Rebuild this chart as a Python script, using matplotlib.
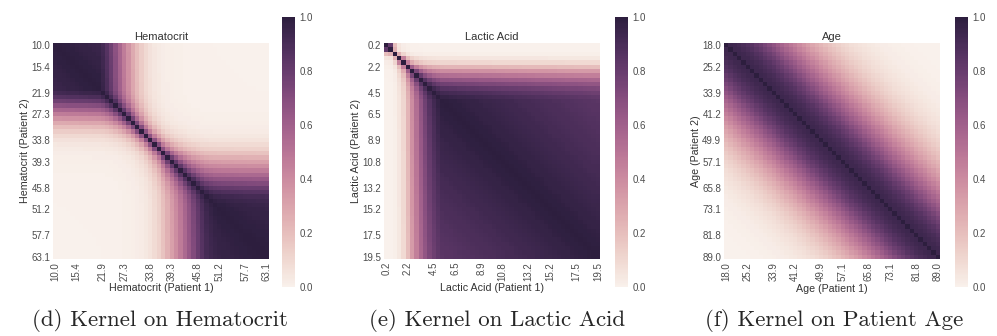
import numpy as np
import matplotlib
matplotlib.use("Agg")
import matplotlib.pyplot as plt
import seaborn as sns

sns.set_style("white")
plt.rcParams["font.family"] = ["Liberation Sans", "DejaVu Sans"]

# 50 grid points per variable, ticks every ~5 cells
tick_idx = [0, 5, 11, 16, 22, 27, 33, 38, 44, 49]

hct_ticks = ["10.0", "15.4", "21.9", "27.3", "33.8", "39.3", "45.8", "51.2", "57.7", "63.1"]
lac_ticks = ["0.2", "2.2", "4.5", "6.5", "8.9", "10.8", "13.2", "15.2", "17.5", "19.5"]
age_ticks = ["18.0", "25.2", "33.9", "41.2", "49.9", "57.1", "65.8", "73.1", "81.8", "89.0"]

# warped input position of each grid cell (lengthscale units)
hct_warp = [0.000, 0.005, 0.010, 0.015, 0.020, 0.025, 0.030, 0.035, 0.040, 0.045,
            0.050, 0.090, 0.160, 0.260, 0.400, 0.570, 0.770, 1.000, 1.280, 1.600,
            1.950, 2.350, 2.750, 3.150, 3.500, 3.900, 4.200, 4.450, 4.650, 4.840,
            5.000, 5.140, 5.260, 5.360, 5.440, 5.500, 5.530, 5.550, 5.560, 5.565,
            5.570, 5.575, 5.580, 5.584, 5.588, 5.591, 5.594, 5.596, 5.598, 5.600]
lac_warp = [0.000, 0.200, 1.600, 3.000, 3.800, 4.600, 5.100, 5.400, 5.620, 5.770,
            5.880, 5.950, 6.000, 6.030, 6.035, 6.040, 6.045, 6.050, 6.055, 6.060,
            6.064, 6.069, 6.074, 6.079, 6.083, 6.088, 6.093, 6.098, 6.102, 6.107,
            6.112, 6.117, 6.121, 6.126, 6.131, 6.136, 6.140, 6.145, 6.150, 6.155,
            6.159, 6.164, 6.169, 6.174, 6.178, 6.183, 6.188, 6.193, 6.197, 6.200]
age_warp = [0.00, 0.05, 0.11, 0.16, 0.22, 0.27, 0.32, 0.38, 0.43, 0.49,
            0.54, 0.59, 0.65, 0.70, 0.76, 0.81, 0.86, 0.92, 0.97, 1.03,
            1.08, 1.13, 1.19, 1.24, 1.30, 1.35, 1.40, 1.46, 1.51, 1.57,
            1.62, 1.67, 1.73, 1.78, 1.84, 1.89, 1.94, 2.00, 2.05, 2.11,
            2.16, 2.21, 2.27, 2.32, 2.38, 2.43, 2.48, 2.54, 2.59, 2.65]

# kernel shape (power on distance) and diagonal share per panel
hct_power, hct_nugget = 1.0, 0.0
lac_power, lac_nugget = 1.0, 0.0
age_power, age_nugget = 2.0, 0.06

panels = [
    ("Hematocrit", hct_warp, hct_power, hct_nugget, hct_ticks, "(d) Kernel on Hematocrit"),
    ("Lactic Acid", lac_warp, lac_power, lac_nugget, lac_ticks, "(e) Kernel on Lactic Acid"),
    ("Age", age_warp, age_power, age_nugget, age_ticks, "(f) Kernel on Patient Age"),
]


def kernel(warp, power, nugget):
    w = np.asarray(warp)
    d = np.abs(w[:, None] - w[None, :])
    return (1 - nugget) * np.exp(-d ** power) + nugget * np.eye(len(w))


W, H = 997, 336
fig = plt.figure(figsize=(W / 100, H / 100), dpi=100)
cmap = sns.cubehelix_palette(light=.95, as_cmap=True)

# pixel boxes: heatmap left, colorbar left, caption centre
boxes = [(53, 282, 160), (384, 615, 497), (724, 955, 834)]

for (name, warp, pw, nug, ticks, caption), (hx, cx, capx) in zip(panels, boxes):
    ax = fig.add_axes([hx / W, (H - 259) / H, 216 / W, 216 / H])
    cax = fig.add_axes([cx / W, (H - 287) / H, 13 / W, 270 / H])
    sns.heatmap(kernel(warp, pw, nug), ax=ax, cbar_ax=cax, cmap=cmap, vmin=0, vmax=1,
                xticklabels=False, yticklabels=False)
    pos = np.array(tick_idx) + 0.5
    ax.set_xticks(pos)
    ax.set_xticklabels(ticks, rotation=90, fontsize=7, color="0.3")
    ax.set_yticks(pos)
    ax.set_yticklabels(ticks, rotation=0, fontsize=7, color="0.3")
    ax.tick_params(length=0, pad=2)
    ax.set_title(name, fontsize=8, color="0.2", pad=2)
    ax.set_xlabel(f"{name} (Patient 1)", fontsize=7.7, color="0.2", labelpad=2)
    ax.set_ylabel(f"{name} (Patient 2)", fontsize=7.7, color="0.2", labelpad=1)
    cax.tick_params(labelsize=7, length=0, labelcolor="0.3", pad=3)
    cax.set_yticks([0, 0.2, 0.4, 0.6, 0.8, 1.0])
    cax.set_yticklabels(["0.0", "0.2", "0.4", "0.6", "0.8", "1.0"])
    fig.text(capx / W, (H - 320) / H, caption, ha="center", va="center",
             fontsize=16.5, family="cmr10")

fig.savefig("out.png", dpi=100)
